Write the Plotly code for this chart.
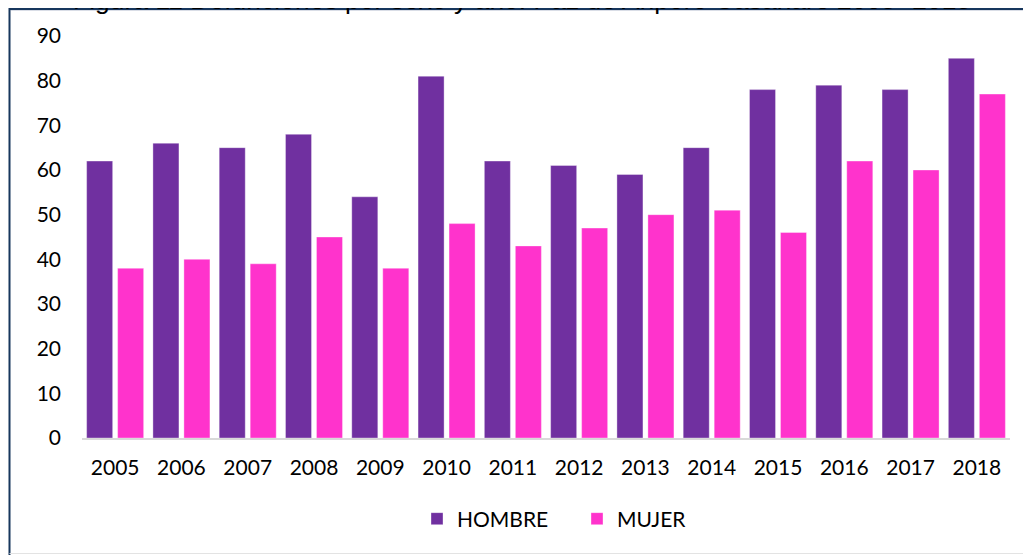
import plotly.graph_objects as go

years = ["2005", "2006", "2007", "2008", "2009", "2010", "2011",
         "2012", "2013", "2014", "2015", "2016", "2017", "2018"]
hombre = [62, 66, 65, 68, 54, 81, 62, 61, 59, 65, 78, 79, 78, 85]
mujer = [38, 40, 39, 45, 38, 48, 43, 47, 50, 51, 46, 62, 60, 77]
y_ticks = [0, 10, 20, 30, 40, 50, 60, 70, 80, 90]
title_text = "Figura 11 Defunciones por sexo y año. Paz de Ariporo Casanare 2005- 2018"

OFF = 8  # page body margin
W, H = 1031 - OFF, 555 - OFF
ML, MR, MT, MB = 82 - OFF, 21, 36 - OFF, 117
PW, PH = W - ML - MR, H - MT - MB


def px_x(x):
    return (x - OFF - ML) / PW


def px_y(y):
    return (H - MB - (y - OFF)) / PH


fig = go.Figure()
fig.add_trace(go.Bar(x=years, y=hombre, name="HOMBRE",
                     marker=dict(color="#7030A0",
                                 line=dict(color="rgba(255,255,255,0.35)", width=1))))
fig.add_trace(go.Bar(x=years, y=mujer, name="MUJER",
                     marker=dict(color="#FF33CC",
                                 line=dict(color="rgba(255,255,255,0.35)", width=1))))

font_family = "Lato, Carlito, 'Open Sans', sans-serif"

fig.update_layout(
    width=W, height=H,
    margin=dict(l=ML, r=MR, t=MT, b=MB, pad=0),
    paper_bgcolor="white", plot_bgcolor="white",
    barmode="group", bargap=0.065, bargroupgap=0.16,
    font=dict(family=font_family, size=21, color="#000000"),
    showlegend=True,
    legend=dict(orientation="h", x=px_x(433 - 16), y=px_y(519),
                xanchor="left", yanchor="middle",
                entrywidth=115, entrywidthmode="pixels",
                font=dict(family=font_family, size=21, color="#000000"),
                itemclick=False, bgcolor="rgba(0,0,0,0)"),
    xaxis=dict(showgrid=False, showline=True, linecolor="#D9D9D9", linewidth=2,
               ticks="", ticklabelstandoff=10, zeroline=False,
               tickfont=dict(family=font_family, size=21, color="#000000")),
    yaxis=dict(range=[0, 90], tickvals=y_ticks, showgrid=False, showline=False,
               zeroline=False, ticks="", ticklabelstandoff=20,
               tickfont=dict(family=font_family, size=21, color="#000000")),
)

fig.add_annotation(text=title_text, xref="paper", yref="paper",
                   x=px_x(522), y=1, xanchor="center", yanchor="bottom",
                   yshift=19, showarrow=False,
                   font=dict(family="Liberation Sans, Arial, sans-serif", size=26.5,
                             color="#000000"))

# frame lines
fig.add_shape(type="line", xref="paper", yref="paper", layer="above",
              x0=px_x(9.5), x1=px_x(1040), y0=px_y(9), y1=px_y(9),
              line=dict(color="#17365D", width=2))
fig.add_shape(type="line", xref="paper", yref="paper", layer="above",
              x0=px_x(10.5), x1=px_x(1040), y0=px_y(10.5), y1=px_y(10.5),
              line=dict(color="#D9DDE6", width=1))
fig.add_shape(type="line", xref="paper", yref="paper", layer="above",
              x0=px_x(9.5), x1=px_x(9.5), y0=px_y(8), y1=px_y(560),
              line=dict(color="#17365D", width=2))
fig.add_shape(type="line", xref="paper", yref="paper", layer="above",
              x0=px_x(9.5), x1=px_x(1040), y0=px_y(553.5), y1=px_y(553.5),
              line=dict(color="#E3E3E3", width=1))

fig.write_html("out.html")
